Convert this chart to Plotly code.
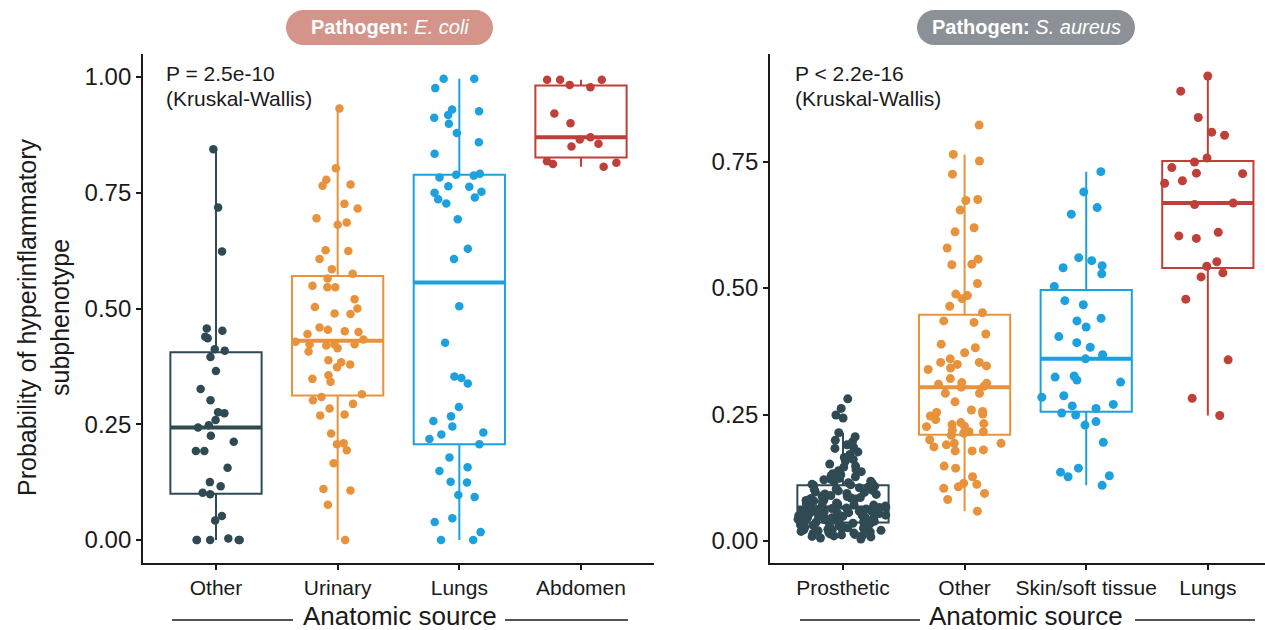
import numpy as np
import plotly.graph_objects as go

W, H = 1265, 630
FONT = "Liberation Sans, Arial, Helvetica, sans-serif"

# ---------------- data: Pathogen E. coli ----------------
ECOLI_SOURCES = ["Other", "Urinary", "Lungs", "Abdomen"]
ecoli_other = [0.844, 0.718, 0.623, 0.457, 0.439, 0.436, 0.452, 0.412, 0.409, 0.395,
               0.365, 0.326, 0.302, 0.276, 0.274, 0.259, 0.243, 0.248, 0.225, 0.212,
               0.192, 0.192, 0.156, 0.125, 0.116, 0.102, 0.099, 0.052, 0.042, 0.0,
               0.0, 0.003, 0.0, 0.0, 0.0]
ecoli_urinary = [0.932, 0.803, 0.778, 0.765, 0.768, 0.726, 0.716, 0.695, 0.686, 0.681,
                 0.626, 0.624, 0.607, 0.585, 0.575, 0.565, 0.549, 0.546, 0.546, 0.520,
                 0.503, 0.500, 0.489, 0.488, 0.459, 0.451, 0.449, 0.454, 0.445, 0.433,
                 0.423, 0.420, 0.428, 0.423, 0.423, 0.414, 0.407, 0.388, 0.384, 0.379,
                 0.373, 0.356, 0.348, 0.342, 0.315, 0.309, 0.302, 0.294, 0.284, 0.269,
                 0.271, 0.230, 0.209, 0.207, 0.194, 0.166, 0.110, 0.107, 0.076, 0.0]
ecoli_lungs = [0.996, 0.996, 0.976, 0.912, 0.926, 0.918, 0.930, 0.899, 0.879, 0.859,
               0.834, 0.783, 0.789, 0.787, 0.791, 0.763, 0.764, 0.750, 0.752, 0.736,
               0.727, 0.740, 0.693, 0.629, 0.607, 0.505, 0.426, 0.350, 0.338, 0.353,
               0.287, 0.257, 0.245, 0.267, 0.232, 0.228, 0.218, 0.207, 0.178, 0.149,
               0.157, 0.124, 0.126, 0.093, 0.097, 0.039, 0.047, 0.017, 0.0, 0.0]
ecoli_abdomen = [0.983, 0.994, 0.994, 0.994, 0.978, 0.921, 0.900, 0.870, 0.865, 0.856,
                 0.850, 0.818, 0.812, 0.806, 0.815]

# ---------------- data: Pathogen S. aureus ----------------
SAUREUS_SOURCES = ["Prosthetic", "Other", "Skin/soft tissue", "Lungs"]
saureus_prosthetic = [
    0.281, 0.262, 0.249, 0.243,
    0.214, 0.206, 0.199, 0.196, 0.190, 0.185, 0.183, 0.176, 0.171, 0.165, 0.161, 0.158, 0.152,
    0.148, 0.146, 0.141, 0.139, 0.137, 0.133, 0.131, 0.129, 0.127, 0.124, 0.122, 0.121, 0.118,
    0.117, 0.115, 0.114, 0.112, 0.111, 0.110, 0.108, 0.106, 0.105, 0.103, 0.102, 0.100, 0.099,
    0.097, 0.096, 0.094, 0.093, 0.092, 0.090, 0.089, 0.088, 0.086, 0.085, 0.084, 0.083, 0.081,
    0.080, 0.079, 0.078, 0.076, 0.075, 0.074, 0.073, 0.072, 0.071, 0.070, 0.069, 0.068, 0.067,
    0.066, 0.066, 0.065, 0.064, 0.063, 0.062, 0.061, 0.060, 0.059, 0.058, 0.058, 0.057, 0.056,
    0.055, 0.054, 0.054, 0.053, 0.052, 0.051, 0.050, 0.050, 0.049, 0.048, 0.047, 0.046, 0.046,
    0.045, 0.044, 0.043, 0.042, 0.042, 0.041, 0.040, 0.039, 0.038, 0.038, 0.037, 0.036, 0.035,
    0.034, 0.034, 0.033, 0.032, 0.031, 0.030, 0.030, 0.029, 0.028, 0.027, 0.026, 0.026, 0.025,
    0.024, 0.023, 0.022, 0.021, 0.021, 0.020, 0.019, 0.018, 0.017, 0.016, 0.015, 0.014, 0.013,
    0.012, 0.011, 0.010, 0.009, 0.008, 0.006, 0.004]
saureus_other = [0.822, 0.764, 0.751, 0.725, 0.673, 0.675, 0.654, 0.619, 0.611, 0.579,
                 0.557, 0.547, 0.546, 0.509, 0.485, 0.488, 0.479, 0.464, 0.451, 0.435,
                 0.432, 0.409, 0.382, 0.389, 0.372, 0.360, 0.353, 0.353, 0.349, 0.339,
                 0.346, 0.342, 0.321, 0.310, 0.313, 0.312, 0.304, 0.306, 0.292, 0.292,
                 0.275, 0.259, 0.254, 0.256, 0.251, 0.247, 0.240, 0.234, 0.230, 0.226,
                 0.227, 0.232, 0.219, 0.213, 0.216, 0.216, 0.209, 0.193, 0.200, 0.193,
                 0.186, 0.190, 0.178, 0.180, 0.178, 0.148, 0.144, 0.127, 0.104, 0.112,
                 0.107, 0.114, 0.094, 0.082, 0.059]
saureus_skin = [0.730, 0.690, 0.659, 0.646, 0.540, 0.554, 0.544, 0.560, 0.528, 0.503,
                0.467, 0.475, 0.435, 0.423, 0.440, 0.404, 0.383, 0.392, 0.360, 0.368,
                0.314, 0.324, 0.318, 0.326, 0.284, 0.287, 0.267, 0.270, 0.253, 0.249,
                0.262, 0.236, 0.229, 0.195, 0.136, 0.127, 0.144, 0.129, 0.110]
saureus_lungs = [0.919, 0.889, 0.837, 0.808, 0.802, 0.757, 0.749, 0.738, 0.726, 0.727,
                 0.707, 0.712, 0.665, 0.668, 0.603, 0.598, 0.610, 0.552, 0.543, 0.530,
                 0.522, 0.478, 0.358, 0.282, 0.248]

# ---------------- labels ----------------
LEFT_TICKS = [0.0, 0.25, 0.50, 0.75, 1.00]
RIGHT_TICKS = [0.0, 0.25, 0.50, 0.75]
STRIP_LABELS = ["<b>Pathogen:</b> <i>E. coli</i>", "<b>Pathogen:</b> <i>S. aureus</i>"]
PVALUES = ["P = 2.5e-10", "P &lt; 2.2e-16"]
TEST_NAME = "(Kruskal-Wallis)"
X_TITLE = "Anatomic source"
Y_TITLE = "Probability of hyperinflammatory<br>subphenotype"

# colours by slot within each panel
SLOT_COLORS = ["#2F4A53", "#E8923B", "#1DA1DE", "#BF3F39"]
STRIP_COLORS = ["#D4948A", "#8B9197"]
BOX_WIDTH = 0.75
TEXT_COLOR = "#1a1a1a"


def px(x):
    return x / W


def py(y):
    return 1 - y / H


def pill_path(x0, x1, y0, y1):
    r = (y1 - y0) / 2
    k = 0.5523 * r
    pts = [
        ("M", [(x0 + r, y0)]),
        ("L", [(x1 - r, y0)]),
        ("C", [(x1 - r + k, y0), (x1, y0 + r - k), (x1, y0 + r)]),
        ("C", [(x1, y0 + r + k), (x1 - r + k, y1), (x1 - r, y1)]),
        ("L", [(x0 + r, y1)]),
        ("C", [(x0 + r - k, y1), (x0, y1 - r + k), (x0, y1 - r)]),
        ("C", [(x0, y0 + r - k), (x0 + r - k, y0), (x0 + r, y0)]),
    ]
    out = ""
    for cmd, coords in pts:
        out += cmd + " ".join(f"{px(a):.5f},{py(b):.5f}" for a, b in coords) + " "
    return out + "Z"


panels = [
    dict(sources=ECOLI_SOURCES,
         values=[ecoli_other, ecoli_urinary, ecoli_lungs, ecoli_abdomen],
         xa="x", ya="y", msize=8.5),
    dict(sources=SAUREUS_SOURCES,
         values=[saureus_prosthetic, saureus_other, saureus_skin, saureus_lungs],
         xa="x2", ya="y2", msize=9),
]

fig = go.Figure()
shapes = []

for p in panels:
    for i, (src, vals) in enumerate(zip(p["sources"], p["values"])):
        c = SLOT_COLORS[i]
        fig.add_trace(go.Box(
            x=[src] * len(vals), y=vals, xaxis=p["xa"], yaxis=p["ya"],
            boxpoints="all", jitter=1, pointpos=0, width=BOX_WIDTH,
            whiskerwidth=0, fillcolor="rgba(0,0,0,0)",
            line=dict(color=c, width=2),
            marker=dict(color=c, size=p["msize"], line=dict(width=0)),
            showlegend=False, hoverinfo="y",
        ))
        med = float(np.median(vals))
        shapes.append(dict(
            type="line", xref=p["xa"], yref=p["ya"], layer="below",
            x0=i - BOX_WIDTH / 2, x1=i + BOX_WIDTH / 2, y0=med, y1=med,
            line=dict(color=c, width=4),
        ))

# facet strips (pill-shaped)
strip_boxes = [(286, 493), (917, 1135)]
annotations = []
for (sx0, sx1), label, col in zip(strip_boxes, STRIP_LABELS, STRIP_COLORS):
    shapes.append(dict(type="path", xref="paper", yref="paper",
                       path=pill_path(sx0, sx1, 10, 45),
                       fillcolor=col, line=dict(width=0), layer="above"))
    annotations.append(dict(text=label, x=px((sx0 + sx1) / 2), y=py(27.5),
                            xref="paper", yref="paper", showarrow=False,
                            xanchor="center", yanchor="middle",
                            font=dict(size=20, color="white", family=FONT)))

# test results
for x_left, ptxt in zip([164, 793], PVALUES):
    for yy, t in [(73, ptxt), (98, TEST_NAME)]:
        annotations.append(dict(text=t, x=px(x_left), y=py(yy), xref="paper",
                                yref="paper", showarrow=False, xanchor="left",
                                yanchor="middle",
                                font=dict(size=21, color=TEXT_COLOR, family=FONT)))

# x titles flanked by rules
for cx, (l0, l1), (r0, r1) in [(400, (172, 293), (505, 628)),
                               (1026, (800, 920), (1135, 1255))]:
    annotations.append(dict(text=X_TITLE, x=px(cx), y=py(616), xref="paper",
                            yref="paper", showarrow=False, xanchor="center",
                            yanchor="middle",
                            font=dict(size=26, color=TEXT_COLOR, family=FONT)))
    for a, b in [(l0, l1), (r0, r1)]:
        shapes.append(dict(type="line", xref="paper", yref="paper",
                           x0=px(a), x1=px(b), y0=py(620), y1=py(620),
                           line=dict(color=TEXT_COLOR, width=1.3)))

# y title
annotations.append(dict(text=Y_TITLE, x=px(43), y=py(317), xref="paper",
                        yref="paper", showarrow=False, textangle=-90,
                        xanchor="center", yanchor="middle",
                        font=dict(size=25, color=TEXT_COLOR, family=FONT)))

axis_common = dict(showline=True, linecolor=TEXT_COLOR, linewidth=1.8,
                   ticks="outside", ticklen=5, tickwidth=1.8, tickcolor=TEXT_COLOR,
                   showgrid=False, zeroline=False, mirror=False)
ydom = [py(563), py(54)]

fig.update_layout(
    width=W, height=H,
    margin=dict(l=0, r=0, t=0, b=0),
    paper_bgcolor="white", plot_bgcolor="white",
    boxmode="overlay", showlegend=False,
    font=dict(family=FONT, color=TEXT_COLOR),
    xaxis=dict(domain=[px(143), px(654)], anchor="y", range=[-0.6, 3.6],
               type="category", categoryorder="array", categoryarray=ECOLI_SOURCES,
               tickfont=dict(size=21, color=TEXT_COLOR), **axis_common),
    yaxis=dict(domain=ydom, anchor="x", range=[-0.0497, 1.0497],
               tickvals=LEFT_TICKS, ticktext=[f"{v:.2f}" for v in LEFT_TICKS],
               tickfont=dict(size=24, color=TEXT_COLOR), **axis_common),
    xaxis2=dict(domain=[px(770), 1.0], anchor="y2", range=[-0.6, 3.47],
                type="category", categoryorder="array", categoryarray=SAUREUS_SOURCES,
                tickfont=dict(size=21, color=TEXT_COLOR), **axis_common),
    yaxis2=dict(domain=ydom, anchor="x2", range=[-0.0435, 0.9625],
                tickvals=RIGHT_TICKS, ticktext=[f"{v:.2f}" for v in RIGHT_TICKS],
                tickfont=dict(size=24, color=TEXT_COLOR), **axis_common),
    shapes=shapes,
    annotations=annotations,
)

fig.write_html("out.html")
